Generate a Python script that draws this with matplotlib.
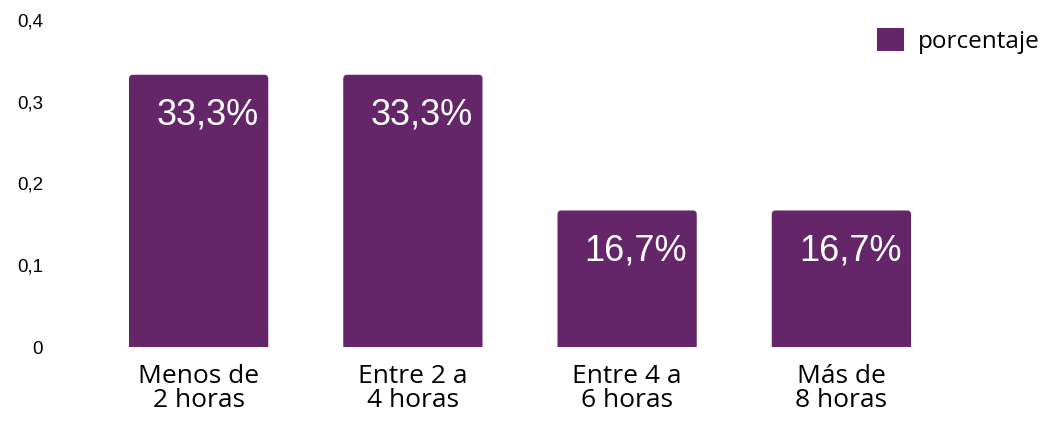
import matplotlib
matplotlib.use("Agg")
import matplotlib.pyplot as plt
from matplotlib.patches import FancyBboxPatch, Patch

categories = ["Menos de\n2 horas", "Entre 2 a\n4 horas", "Entre 4 a\n6 horas", "Más de\n8 horas"]
values = [0.333, 0.333, 0.167, 0.167]
value_labels = ["33,3%", "33,3%", "16,7%", "16,7%"]
yticks = [0, 0.1, 0.2, 0.3, 0.4]
ytick_labels = ["0", "0,1", "0,2", "0,3", "0,4"]
series_name = "porcentaje"

color = "#642669"
W, H, DPI = 1052, 421, 100
fig = plt.figure(figsize=(W / DPI, H / DPI), dpi=DPI)
ax = fig.add_axes([91.5 / W, 74 / H, (948.5 - 91.5) / W, (401 - 74) / H])

x = list(range(len(categories)))
bars = ax.bar(x, values, width=0.65, color=color, label=series_name)
ax.set_xlim(-0.5, len(categories) - 0.5)
ax.set_ylim(0, 0.4)

# rounded top corners
ax_w_px = (948.5 - 91.5)
ax_h_px = (401 - 74)
x_per_px = (len(categories)) / ax_w_px
y_per_px = 0.4 / ax_h_px
r_px = 4
for rect in bars:
    bx, by = rect.get_x(), rect.get_y()
    bw, bh = rect.get_width(), rect.get_height()
    ext = 10 * y_per_px
    p = FancyBboxPatch((bx, by - ext), bw, bh + ext,
                       boxstyle=f"round,pad=0,rounding_size={r_px * x_per_px}",
                       mutation_aspect=y_per_px / x_per_px,
                       facecolor=color, edgecolor="none", clip_on=True)
    ax.add_patch(p)
    rect.set_visible(False)

for xi, v, lab in zip(x, values, value_labels):
    ax.annotate(lab, xy=(xi + 0.65 / 2, v), xytext=(-7, -36), textcoords="offset points",
                ha="right", va="baseline", color="white", fontsize=26,
                family="Liberation Sans")

ax.set_xticks(x)
ax.set_xticklabels(categories, family="Open Sans", fontsize=19, linespacing=0.95)
ax.set_yticks(yticks)
ax.set_yticklabels(ytick_labels, family="Liberation Sans", fontsize=13.5)
ax.tick_params(axis="x", length=0, pad=12)
ax.tick_params(axis="y", length=0, pad=35)
for s in ax.spines.values():
    s.set_visible(False)

handle = Patch(facecolor=color, edgecolor="none")
fig.legend([handle], [series_name], loc="center right", bbox_to_anchor=(1052 / W, 1 - 41 / H),
           frameon=False, prop={"family": "Open Sans", "size": 17.5},
           handlelength=1.1, handleheight=1.1, handletextpad=0.6, borderaxespad=0.1)

fig.savefig("out.png", dpi=DPI)
